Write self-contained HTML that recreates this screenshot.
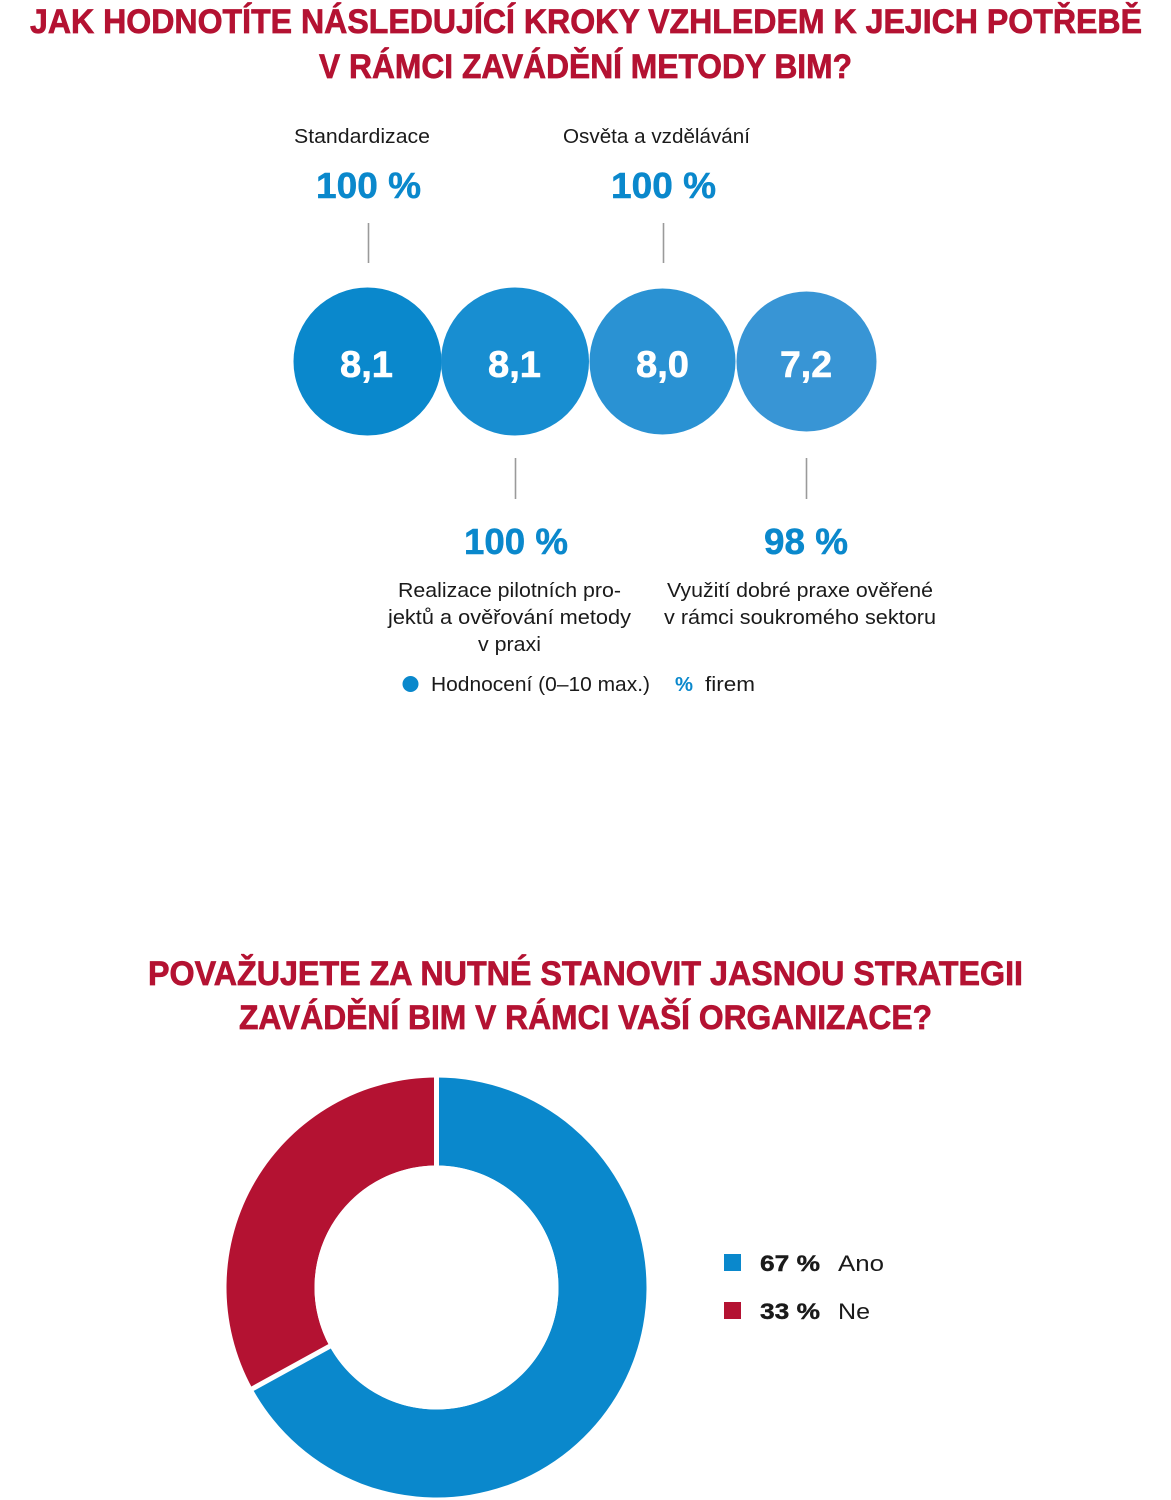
<!DOCTYPE html>
<html>
<head>
<meta charset="utf-8">
<style>
  html,body{margin:0;padding:0;background:#fff;}
  svg{display:block;}
  text{font-family:"Liberation Sans","DejaVu Sans",sans-serif;}
  .t{fill:#b41232;stroke:#b41232;stroke-width:0.7px;font-weight:bold;font-size:34px;}
  .lab{fill:#1a1a1a;font-size:20.5px;}
  .pct{fill:#0a88cc;stroke:#0a88cc;stroke-width:0.5px;font-weight:bold;font-size:36px;}
  .cv{fill:#fff;stroke:#fff;stroke-width:0.6px;font-weight:bold;font-size:37px;}
</style>
</head>
<body>
<svg width="1171" height="1500" viewBox="0 0 1171 1500" xmlns="http://www.w3.org/2000/svg">
  <rect width="1171" height="1500" fill="#fff"/>

  <!-- Title 1 -->
  <text class="t" x="30" y="33" textLength="1112" lengthAdjust="spacingAndGlyphs">JAK HODNOTÍTE NÁSLEDUJÍCÍ KROKY VZHLEDEM K JEJICH POTŘEBĚ</text>
  <text class="t" x="319" y="78" textLength="533" lengthAdjust="spacingAndGlyphs">V RÁMCI ZAVÁDĚNÍ METODY BIM?</text>

  <!-- Upper labels -->
  <text class="lab" x="294" y="143" textLength="136" lengthAdjust="spacingAndGlyphs">Standardizace</text>
  <text class="lab" x="563" y="143" textLength="187" lengthAdjust="spacingAndGlyphs">Osvěta a vzdělávání</text>

  <text class="pct" x="316" y="198" textLength="105" lengthAdjust="spacingAndGlyphs">100 %</text>
  <text class="pct" x="611" y="198" textLength="105" lengthAdjust="spacingAndGlyphs">100 %</text>

  <line x1="368.5" y1="223" x2="368.5" y2="263" stroke="#9a9a9a" stroke-width="1.6"/>
  <line x1="663.5" y1="223" x2="663.5" y2="263" stroke="#9a9a9a" stroke-width="1.6"/>

  <!-- Circles -->
  <circle cx="367.5" cy="361.5" r="74" fill="#0a88cc"/>
  <circle cx="515" cy="361.5" r="74" fill="#188ed1"/>
  <circle cx="662.5" cy="361.5" r="73" fill="#2a92d3"/>
  <circle cx="806.5" cy="361.5" r="70" fill="#3895d5"/>

  <text class="cv" x="340" y="377" textLength="53" lengthAdjust="spacingAndGlyphs">8,1</text>
  <text class="cv" x="488" y="377" textLength="53" lengthAdjust="spacingAndGlyphs">8,1</text>
  <text class="cv" x="636" y="377" textLength="53" lengthAdjust="spacingAndGlyphs">8,0</text>
  <text class="cv" x="780" y="377" textLength="52" lengthAdjust="spacingAndGlyphs">7,2</text>

  <!-- Lower lines -->
  <line x1="515.5" y1="458" x2="515.5" y2="499" stroke="#9a9a9a" stroke-width="1.6"/>
  <line x1="806.5" y1="458" x2="806.5" y2="499" stroke="#9a9a9a" stroke-width="1.6"/>

  <text class="pct" x="464" y="554" textLength="104" lengthAdjust="spacingAndGlyphs">100 %</text>
  <text class="pct" x="764" y="554" textLength="84" lengthAdjust="spacingAndGlyphs">98 %</text>

  <text class="lab" x="398" y="597" textLength="223" lengthAdjust="spacingAndGlyphs">Realizace pilotních pro-</text>
  <text class="lab" x="388" y="624" textLength="243" lengthAdjust="spacingAndGlyphs">jektů a ověřování metody</text>
  <text class="lab" x="478" y="651" textLength="63" lengthAdjust="spacingAndGlyphs">v praxi</text>

  <text class="lab" x="667" y="597" textLength="266" lengthAdjust="spacingAndGlyphs">Využití dobré praxe ověřené</text>
  <text class="lab" x="664" y="624" textLength="272" lengthAdjust="spacingAndGlyphs">v rámci soukromého sektoru</text>

  <!-- Legend 1 -->
  <circle cx="410.5" cy="684" r="8" fill="#0a88cc"/>
  <text class="lab" x="431" y="691" textLength="219" lengthAdjust="spacingAndGlyphs">Hodnocení (0–10 max.)</text>
  <text x="675" y="691" fill="#0a88cc" font-weight="bold" font-size="20.5" textLength="18" lengthAdjust="spacingAndGlyphs">%</text>
  <text class="lab" x="705" y="691" textLength="50" lengthAdjust="spacingAndGlyphs">firem</text>

  <!-- Title 2 -->
  <text class="t" x="148" y="985" textLength="875" lengthAdjust="spacingAndGlyphs">POVAŽUJETE ZA NUTNÉ STANOVIT JASNOU STRATEGII</text>
  <text class="t" x="239" y="1029" textLength="693" lengthAdjust="spacingAndGlyphs">ZAVÁDĚNÍ BIM V RÁMCI VAŠÍ ORGANIZACE?</text>

  <!-- Donut -->
  <path d="M 436.5 1077.5 A 210 210 0 1 1 252.5 1388.7 L 329.6 1346.3 A 122 122 0 1 0 436.5 1165.5 Z" fill="#0a88cc"/>
  <path d="M 252.5 1388.7 A 210 210 0 0 1 436.5 1077.5 L 436.5 1165.5 A 122 122 0 0 0 329.6 1346.3 Z" fill="#b41232"/>
  <line x1="436.5" y1="1287.5" x2="436.5" y2="1070" stroke="#fff" stroke-width="5"/>
  <line x1="436.5" y1="1287.5" x2="245.9" y2="1392.3" stroke="#fff" stroke-width="5"/>
  <circle cx="436.5" cy="1287.5" r="122" fill="#fff"/>

  <!-- Legend 2 -->
  <rect x="724" y="1254" width="17" height="17" fill="#0a88cc"/>
  <text x="760" y="1271" fill="#1a1a1a" stroke="#1a1a1a" stroke-width="0.4" font-weight="bold" font-size="22" textLength="60" lengthAdjust="spacingAndGlyphs">67 %</text>
  <text x="838" y="1271" fill="#1a1a1a" font-size="22" textLength="46" lengthAdjust="spacingAndGlyphs">Ano</text>

  <rect x="724" y="1302" width="17" height="17" fill="#b41232"/>
  <text x="760" y="1319" fill="#1a1a1a" stroke="#1a1a1a" stroke-width="0.4" font-weight="bold" font-size="22" textLength="60" lengthAdjust="spacingAndGlyphs">33 %</text>
  <text x="838" y="1319" fill="#1a1a1a" font-size="22" textLength="32" lengthAdjust="spacingAndGlyphs">Ne</text>
</svg>
</body>
</html>
